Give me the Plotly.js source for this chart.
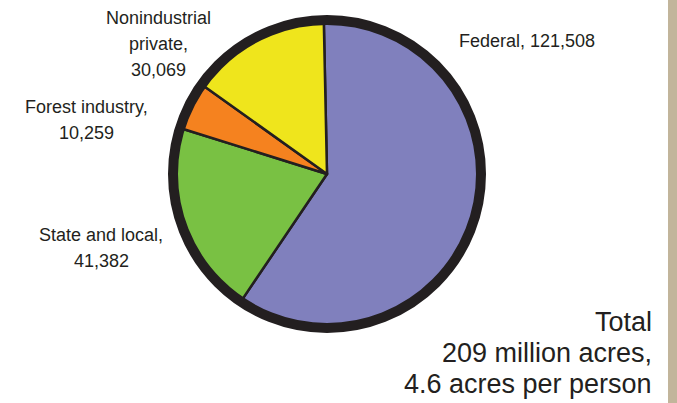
<!DOCTYPE html>
<html><head><meta charset="utf-8">
<script src="https://cdn.plot.ly/plotly-3.0.1.min.js"></script>
<style>html,body{margin:0;padding:0;background:#fff}#chart{width:677px;height:403px}</style>
</head><body><div id="chart"></div>
<script>
// Data (thousand acres)
const categories = ["Federal", "State and local", "Forest industry", "Nonindustrial private"];
const acres = [121508, 41382, 10259, 30069];
const sliceColors = ["#8080bd", "#79c143", "#f5821f", "#efe51c"];
const totalLines = ["Total", "209 million acres,", "4.6 acres per person"];

const W = 677, H = 403;
const px = x => x / W;
const py = y => 1 - y / H;
const fmt = v => v.toLocaleString('en-US');

// Text lines for each label built from the data
const labelLines = [
  [categories[0] + ", " + fmt(acres[0])],
  [categories[1] + ",", fmt(acres[1])],
  [categories[2] + ",", fmt(acres[2])],
  categories[3].split(' ').map((w, i, a) => i === a.length - 1 ? w + ',' : w).concat([fmt(acres[3])])
];
// label placement (pixel centre of first line)
const labelPos = [[527, 41], [101, 235], [86, 107], [158, 18]];
const lineStep = 26;
const textColor = "#231f20";
const font = "Liberation Sans, Arial, Helvetica, sans-serif";

const annotations = [];
labelLines.forEach((lines, i) => {
  lines.forEach((t, j) => {
    annotations.push({
      text: t, xref: 'paper', yref: 'paper',
      x: px(labelPos[i][0]), y: py(labelPos[i][1] + j * lineStep),
      xanchor: 'center', yanchor: 'middle', showarrow: false,
      font: {family: font, size: 18, color: textColor}
    });
  });
});
totalLines.forEach((t, j) => {
  annotations.push({
    text: t, xref: 'paper', yref: 'paper',
    x: px(654), y: py(322 + j * 31),
    xanchor: 'right', yanchor: 'middle', showarrow: false,
    font: {family: font, size: 27, color: textColor}
  });
});

const domain = {x: [px(173), px(481)], y: [py(328), py(20)]};

const data = [
  {
    type: 'pie', labels: categories, values: acres, sort: false,
    direction: 'clockwise', rotation: -1.2, domain: domain,
    marker: {colors: sliceColors, line: {color: textColor, width: 2.5}},
    textinfo: 'none', hoverinfo: 'label+value', showlegend: false
  },
  {
    type: 'pie', labels: ['ring'], values: [1], sort: false, domain: domain,
    marker: {colors: ['rgba(0,0,0,0)'], line: {color: textColor, width: 10}},
    textinfo: 'none', hoverinfo: 'skip', showlegend: false
  }
];

const layout = {
  width: W, height: H,
  margin: {l: 0, r: 0, t: 0, b: 0},
  paper_bgcolor: '#ffffff',
  showlegend: false,
  annotations: annotations,
  shapes: [{
    type: 'rect', xref: 'paper', yref: 'paper',
    x0: px(668), x1: 1, y0: 0, y1: 1,
    fillcolor: '#c2b59b', line: {width: 0}, layer: 'below'
  }]
};

Plotly.newPlot('chart', data, layout, {displayModeBar: false, staticPlot: true});
</script>
</body></html>
